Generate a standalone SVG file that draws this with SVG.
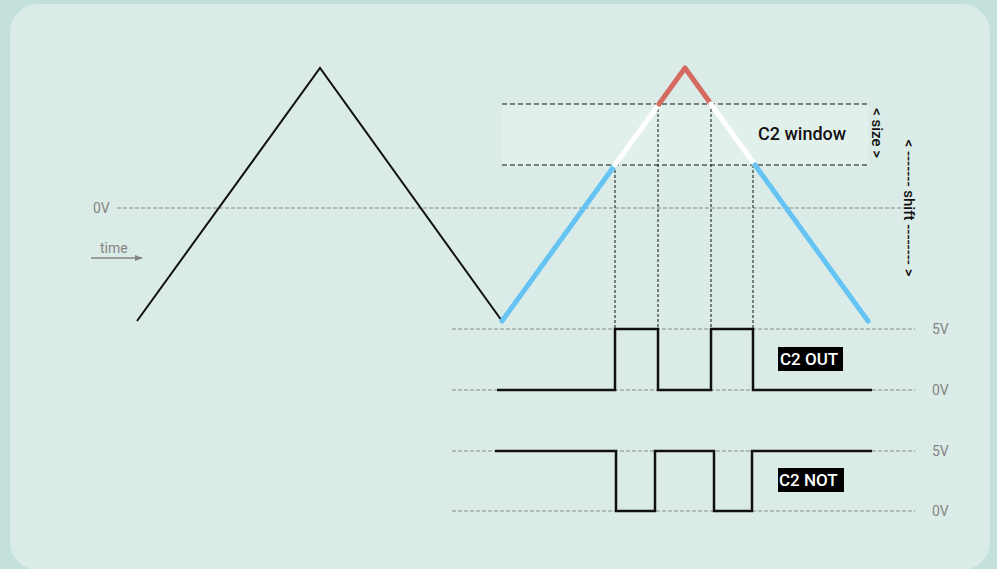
<svg xmlns="http://www.w3.org/2000/svg" width="997" height="569" viewBox="0 0 997 569">
<style>
.lbl{font-family:Roboto,"Liberation Sans",sans-serif;font-size:14px;fill:#858585}
.dash{stroke:#8a8a8a;stroke-width:1;stroke-dasharray:4 2;fill:none}
.vd{stroke:#111;stroke-width:1;stroke-dasharray:3 2;fill:none}
.wd{stroke:#111;stroke-width:1.2;stroke-dasharray:5 3;fill:none}
.wave{stroke:#111;stroke-width:2.5;fill:none}
.tag{font-family:Roboto,"Liberation Sans",sans-serif;font-size:17px;font-weight:500;fill:#fff}
.dark{font-family:Roboto,"Liberation Sans",sans-serif;font-weight:500;fill:#111}
</style>
<defs>
<marker id="ah" viewBox="0 0 10 10" refX="9" refY="5" markerWidth="8" markerHeight="8" markerUnits="userSpaceOnUse" orient="auto">
<path d="M0,1 L10,5 L0,9 z" fill="#858585"/>
</marker>
</defs>
<rect x="0" y="0" width="997" height="569" fill="#c4e0da"/>
<rect x="10" y="4" width="980" height="566" rx="28" fill="#dbebe7"/>
<g id="window">
<rect x="502" y="104" width="366" height="61" fill="#e2f0ec"/>
<line x1="502" y1="104" x2="868" y2="104" class="wd"/>
<line x1="502" y1="165" x2="868" y2="165" class="wd"/>
<text x="758" y="140" class="dark" font-size="18">C2 window</text>
</g>
<g id="axes">
<line x1="117" y1="208" x2="905" y2="208" class="dash"/>
<text x="93" y="213" class="lbl">0V</text>
<text x="100" y="253" class="lbl">time</text>
<line x1="91" y1="258" x2="142" y2="258" stroke="#858585" stroke-width="1.5" marker-end="url(#ah)"/>
<line x1="452" y1="329" x2="915" y2="329" class="dash"/>
<line x1="452" y1="390" x2="915" y2="390" class="dash"/>
<line x1="452" y1="451" x2="915" y2="451" class="dash"/>
<line x1="452" y1="511" x2="915" y2="511" class="dash"/>
<text x="932" y="334" class="lbl">5V</text>
<text x="932" y="395" class="lbl">0V</text>
<text x="932" y="456" class="lbl">5V</text>
<text x="932" y="516" class="lbl">0V</text>
</g>
<g id="connectors">
<line x1="615" y1="165" x2="615" y2="329" class="vd"/>
<line x1="658" y1="104" x2="658" y2="329" class="vd"/>
<line x1="711" y1="104" x2="711" y2="329" class="vd"/>
<line x1="753" y1="165" x2="753" y2="329" class="vd"/>
</g>
<g id="triangle1">
<polyline points="137,321 320,68 502,321" stroke="#111" stroke-width="2" fill="none"/>
</g>
<g id="triangle2" stroke-linecap="round" stroke-linejoin="round" fill="none" stroke-width="5">
<polyline points="502,321 615,165" stroke="#66c4f5"/>
<polyline points="615,165 659,104" stroke="#ffffff"/>
<polyline points="659,104 685,68 711,104" stroke="#d46a60"/>
<polyline points="711,104 755,165" stroke="#ffffff"/>
<polyline points="755,165 868,321" stroke="#66c4f5"/>
</g>
<g id="c2out">
<polyline points="497,390 615,390 615,329 658,329 658,390 711,390 711,329 753,329 753,390 872,390" class="wave"/>
<rect x="778" y="347" width="65" height="24" fill="#000"/>
<text x="780" y="365" class="tag">C2 OUT</text>
</g>
<g id="c2not">
<polyline points="495,451 616,451 616,511 655,511 655,451 714,451 714,511 752,511 752,451 872,451" class="wave"/>
<rect x="778" y="468" width="66" height="24" fill="#000"/>
<text x="779" y="486" class="tag">C2 NOT</text>
</g>
<g id="size">
<text transform="translate(872,133) rotate(90)" text-anchor="middle" class="dark" font-size="15">&lt; size &gt;</text>
</g>
<g id="shift">
<text transform="translate(904,208) rotate(90)" text-anchor="middle" class="dark" font-size="15">&lt; ------- shift -------- &gt;</text>
</g>
</svg>
